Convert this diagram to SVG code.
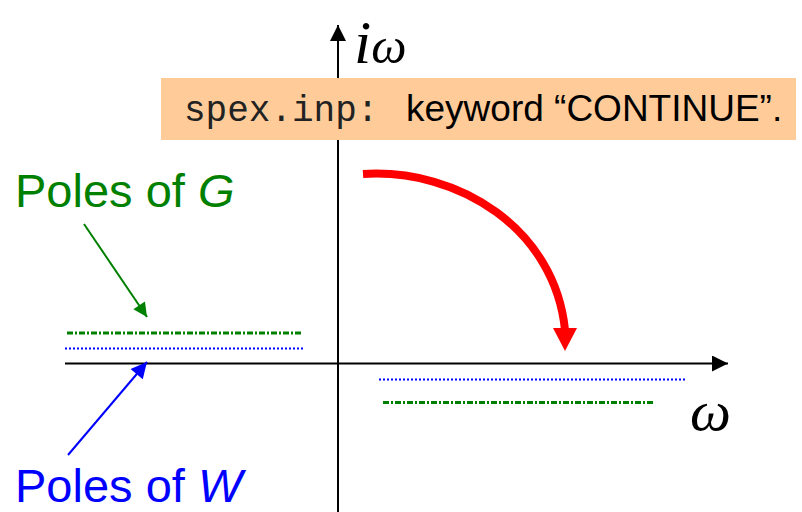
<svg xmlns="http://www.w3.org/2000/svg" width="802" height="512" viewBox="0 0 802 512">
<defs>
<style>
.axis{stroke:#000;stroke-width:2;fill:none}
.sans{font-family:"Liberation Sans",Arial,sans-serif}
.serif{font-family:"Liberation Serif","Times New Roman",serif;font-style:italic}
.mono{font-family:"Liberation Mono","Courier New",monospace}
.gdash{stroke:#008000;stroke-width:3;stroke-dasharray:6 2 2 2;fill:none}
.bdot{stroke:#0000FF;stroke-width:2;stroke-dasharray:2 2;fill:none}
</style>
<marker id="ahBlack" viewBox="0 0 10 10" refX="10" refY="5" markerUnits="userSpaceOnUse" markerWidth="16" markerHeight="16" orient="auto"><path d="M0,0 L10,5 L0,10 z" fill="#000"/></marker>
<marker id="ahGreen" viewBox="0 0 10 10" refX="10" refY="5" markerUnits="userSpaceOnUse" markerWidth="16" markerHeight="14" orient="auto"><path d="M0,0 L10,5 L0,10 z" fill="#008000"/></marker>
<marker id="ahBlue" viewBox="0 0 10 10" refX="10" refY="5" markerUnits="userSpaceOnUse" markerWidth="18" markerHeight="16" orient="auto"><path d="M0,0 L10,5 L0,10 z" fill="#0000FF"/></marker>
</defs>
<rect width="802" height="512" fill="#fff"/>
<g id="axes">
<line class="axis" x1="338" y1="512" x2="338" y2="25" marker-end="url(#ahBlack)"/>
<line class="axis" x1="65" y1="363.5" x2="728" y2="363.5" marker-end="url(#ahBlack)"/>
<text class="serif" x="354" y="63" font-size="62">i<tspan font-size="50">ω</tspan></text>
<text class="serif" x="690" y="430" font-size="58">ω</text>
</g>
<g id="note">
<rect x="161" y="78" width="635" height="62" fill="#FFCC99"/>
<text class="mono" x="184" y="121" font-size="36" fill="#222">spex.inp:</text>
<text class="sans" x="406" y="121" font-size="37">keyword “CONTINUE”.</text>
</g>
<g id="poles">
<line class="gdash" x1="67" y1="333" x2="301" y2="333"/>
<line class="bdot" x1="65" y1="348.5" x2="303" y2="348.5"/>
<line class="bdot" x1="379" y1="379.5" x2="685" y2="379.5"/>
<line class="gdash" x1="383" y1="402.5" x2="653" y2="402.5"/>
</g>
<g id="labelG">
<text class="sans" x="15" y="207" font-size="47" fill="#008000">Poles of <tspan font-style="italic">G</tspan></text>
</g>
<g id="labelW">
<text class="sans" x="15" y="502" font-size="47" fill="#0000FF">Poles of <tspan font-style="italic">W</tspan></text>
</g>
<g id="connectors">
<line x1="84" y1="224" x2="147" y2="317" stroke="#008000" stroke-width="2" marker-end="url(#ahGreen)"/>
<line x1="68" y1="455" x2="147" y2="362" stroke="#0000FF" stroke-width="2" marker-end="url(#ahBlue)"/>
<path d="M363,174 C460,168 555,230 565,330" stroke="#FF0000" stroke-width="8" fill="none"/>
<path d="M553,328 L577,328 L565,351 z" fill="#FF0000"/>
</g>
</svg>
